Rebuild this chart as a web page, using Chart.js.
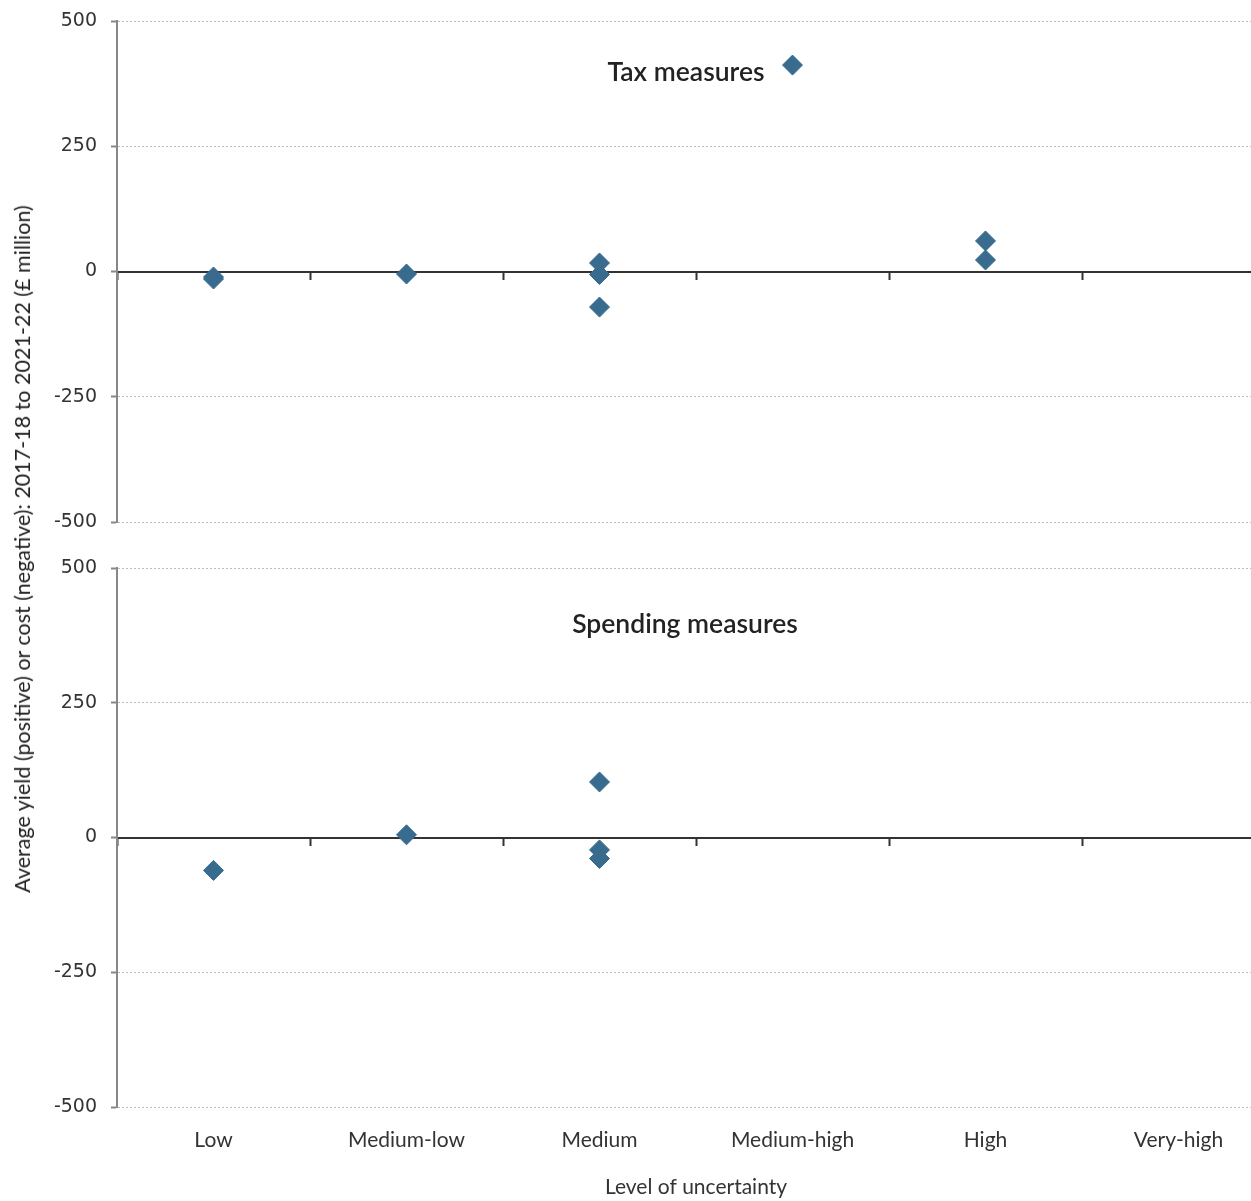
<!DOCTYPE html>
<html>
<head>
<meta charset="utf-8">
<script src="https://cdn.jsdelivr.net/npm/chart.js@4/dist/chart.umd.min.js"></script>
<style>
  html, body { margin: 0; padding: 0; background: #fff; }
  body { width: 1251px; height: 1201px; overflow: hidden; position: relative; }
  .wrap { position: absolute; left: 0; }
  .ytitle {
    position: absolute; left: 22px; top: 549px; white-space: nowrap;
    transform: translate(-50%, -50%) rotate(-90deg);
    font-family: Lato, sans-serif; font-size: 21.5px; color: #222;
  }
  .panel {
    position: absolute; white-space: nowrap; transform: translate(-50%, -50%);
    font-family: Lato, sans-serif; font-size: 26.5px; font-weight: 600; color: #222;
  }
</style>
</head>
<body>
<div class="wrap" style="top:0; width:1275px; height:545px;"><canvas id="c1" width="1275" height="545"></canvas></div>
<div class="wrap" style="top:540px; width:1275px; height:661px;"><canvas id="c2" width="1275" height="661"></canvas></div>
<div class="ytitle">Average yield (positive) or cost (negative): 2017-18 to 2021-22 (£ million)</div>
<div class="panel" style="left:686px; top:71px;">Tax measures</div>
<div class="panel" style="left:685px; top:623px;">Spending measures</div>
<script>
const categories = ['Low', 'Medium-low', 'Medium', 'Medium-high', 'High', 'Very-high'];
const yTicks = [-500, -250, 0, 250, 500];

const taxCategory = ['Low', 'Low', 'Medium-low', 'Medium', 'Medium', 'Medium', 'Medium-high', 'High', 'High'];
const taxValues   = [-11, -15, -5, 17, -6, -71, 412, 61, 23];

const spendCategory = ['Low', 'Medium-low', 'Medium', 'Medium', 'Medium'];
const spendValues   = [-61, 5, 103, -23, -39];

const xTitle = 'Level of uncertainty';

const MARK = '#386b8e';
const tickFont = { family: 'DejaVu Sans', size: 19 };
const catFont = { family: 'Lato', size: 21 };

function points(cats, vals) {
  return cats.map((c, i) => ({ x: c, y: vals[i] }));
}

function noPad(s) { s.paddingLeft = 0; s.paddingRight = 0; s.paddingTop = 0; s.paddingBottom = 0; }

function makeChart(id, cats, vals, pad, bottomLabels) {
  const scales = {
    x: {
      type: 'category',
      labels: categories,
      offset: true,
      position: { y: 0 },
      ticks: { display: false },
      grid: { offset: true, drawOnChartArea: false, drawTicks: true, tickLength: 7, tickColor: '#333', tickWidth: 2 },
      border: { display: true, color: '#333', width: 2 },
      afterFit: s => { s.height = 0; noPad(s); }
    },
    y: {
      type: 'linear',
      min: -500, max: 500,
      afterBuildTicks: s => { s.ticks = yTicks.map(v => ({ value: v })); },
      ticks: { font: tickFont, color: '#333', padding: 14 },
      grid: {
        color: c => (c.tick && c.tick.value === 0) ? 'rgba(0,0,0,0)' : '#bdbdbd',
        lineWidth: 1,
        tickColor: '#888', tickLength: 6, tickWidth: 2
      },
      border: { display: true, color: '#888', width: 2, dash: [2, 2] },
      afterFit: s => { s.width = 117; noPad(s); }
    }
  };
  if (bottomLabels) {
    scales.x2 = {
      type: 'category',
      labels: categories,
      offset: true,
      position: 'bottom',
      grid: { display: false, drawTicks: false },
      border: { display: false },
      ticks: { font: catFont, color: '#333', padding: 21, maxRotation: 0, autoSkip: false },
      title: { display: true, text: xTitle, font: catFont, color: '#333', padding: { top: 0, bottom: 1 } },
      afterFit: s => { s.height = 94; noPad(s); }
    };
  }
  return new Chart(document.getElementById(id), {
    type: 'line',
    data: {
      datasets: [{
        data: points(cats, vals),
        showLine: false,
        pointStyle: 'rectRot',
        pointRadius: 10,
        pointHoverRadius: 10,
        pointBackgroundColor: MARK,
        pointBorderColor: MARK,
        pointBorderWidth: 1
      }]
    },
    options: {
      responsive: false,
      animation: false,
      layout: { padding: pad, autoPadding: false },
      plugins: { legend: { display: false }, tooltip: { enabled: false } },
      scales
    }
  });
}

makeChart('c1', taxCategory, taxValues, { top: 21, bottom: 23, left: 0, right: 0 }, false);
makeChart('c2', spendCategory, spendValues, { top: 28, bottom: 0, left: 0, right: 0 }, true);
</script>
</body>
</html>
